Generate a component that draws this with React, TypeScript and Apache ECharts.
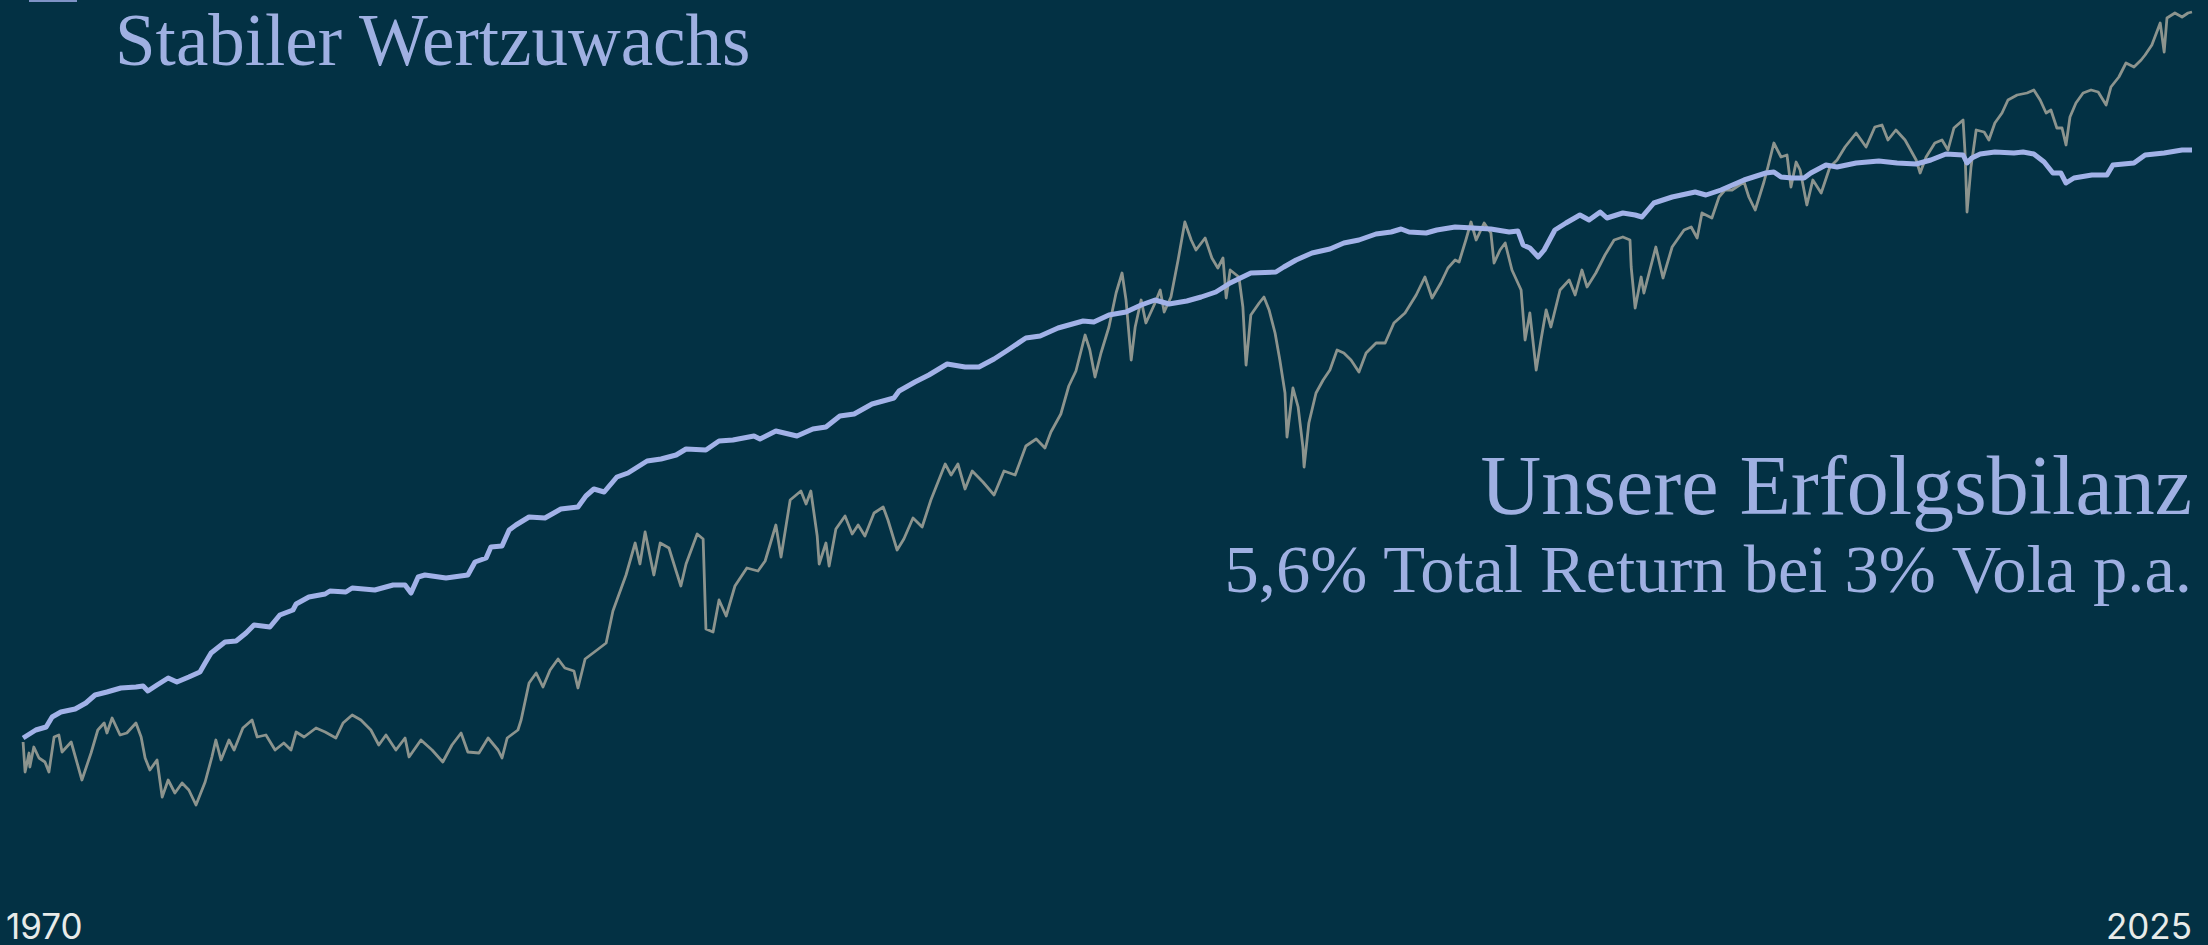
import { useEffect, useRef } from "react";
import * as echarts from "echarts";

// Aktienmarkt (grau): [Jahr, Indexwert]
const equityIndex: [number, number][] = [
  [1970.43,8.8],[1970.48,5.8],[1970.58,7.7],[1970.60,6.3],[1970.70,8.3],[1970.83,7.2],[1970.98,6.8],[1971.08,5.8],[1971.21,9.3],[1971.33,9.5],
  [1971.41,7.8],[1971.64,8.8],[1971.91,5.0],[1972.14,7.7],[1972.31,10.0],[1972.47,10.7],[1972.54,9.7],[1972.67,11.2],[1972.87,9.5],[1973.04,9.7],
  [1973.27,10.7],[1973.40,9.3],[1973.50,7.2],[1973.62,6.0],[1973.80,7.0],[1973.93,3.3],[1974.08,5.0],[1974.25,3.7],[1974.43,4.7],[1974.60,4.0],
  [1974.78,2.5],[1975.01,4.8],[1975.18,7.3],[1975.28,9.0],[1975.41,7.0],[1975.61,9.0],[1975.74,8.0],[1975.96,10.2],[1976.19,11.0],[1976.32,9.3],
  [1976.54,9.5],[1976.77,8.0],[1976.99,8.7],[1977.17,8.0],[1977.30,9.8],[1977.50,9.3],[1977.80,10.2],[1978.03,9.8],[1978.30,9.2],[1978.48,10.7],
  [1978.71,11.5],[1978.93,11.0],[1979.18,10.0],[1979.38,8.5],[1979.56,9.5],[1979.81,8.0],[1980.04,9.2],[1980.14,7.3],[1980.44,9.0],[1980.72,8.0],
  [1980.99,6.8],[1981.22,8.5],[1981.45,9.7],[1981.62,7.8],[1981.90,7.7],[1982.13,9.2],[1982.38,8.0],[1982.48,7.2],[1982.61,9.2],[1982.88,10.0],
  [1982.96,11.0],[1983.16,14.7],[1983.34,15.7],[1983.51,14.3],[1983.69,16.0],[1983.89,17.1],[1984.06,16.2],[1984.29,15.9],[1984.39,14.2],[1984.57,17.1],
  [1984.87,18.0],[1985.10,18.7],[1985.27,21.9],[1985.60,25.5],[1985.83,28.7],[1985.95,26.6],[1986.08,29.8],[1986.30,25.5],[1986.46,28.7],[1986.68,28.2],
  [1986.86,25.9],[1986.98,24.4],[1987.11,26.6],[1987.39,29.6],[1987.54,29.1],[1987.61,20.1],[1987.79,19.8],[1987.94,23.0],[1988.12,21.4],[1988.34,24.4],
  [1988.64,26.2],[1988.92,25.9],[1989.10,26.9],[1989.37,30.5],[1989.50,27.3],[1989.73,33.0],[1990.00,33.9],[1990.13,32.6],[1990.25,33.9],[1990.41,29.4],
  [1990.46,26.6],[1990.63,28.7],[1990.71,26.4],[1990.88,30.1],[1991.11,31.4],[1991.29,29.6],[1991.44,30.5],[1991.61,29.4],[1991.84,31.7],[1992.07,32.3],
  [1992.19,31.0],[1992.42,28.0],[1992.59,29.1],[1992.82,31.2],[1993.05,30.3],[1993.27,33.0],[1993.45,34.8],[1993.63,36.6],[1993.78,35.5],[1993.95,36.6],
  [1994.13,34.1],[1994.31,35.9],[1994.58,34.8],[1994.86,33.5],[1995.11,35.9],[1995.39,35.5],[1995.66,38.4],[1995.92,39.1],[1996.14,38.2],[1996.29,39.8],
  [1996.54,41.6],[1996.74,44.4],[1996.92,45.9],[1997.15,49.5],[1997.27,48.0],[1997.40,45.3],[1997.55,47.7],[1997.75,50.3],[1997.93,53.7],[1998.08,55.7],
  [1998.18,53.0],[1998.31,47.0],[1998.41,50.3],[1998.56,53.0],[1998.68,50.7],[1998.91,52.7],[1999.04,54.0],[1999.14,51.8],[1999.31,53.3],[1999.49,57.0],
  [1999.66,60.8],[1999.82,59.0],[1999.94,58.0],[2000.17,59.2],[2000.34,57.2],[2000.49,56.2],[2000.62,57.2],[2000.70,53.2],[2000.80,56.0],[2001.02,55.3],
  [2001.12,52.3],[2001.20,46.5],[2001.32,51.5],[2001.53,52.7],[2001.65,53.3],[2001.78,52.0],[2001.93,49.7],[2002.05,47.0],[2002.18,43.7],[2002.23,39.3],
  [2002.38,44.2],[2002.51,42.3],[2002.63,38.3],[2002.66,36.3],[2002.78,40.7],[2002.96,43.7],[2003.14,45.0],[2003.31,46.0],[2003.49,48.0],[2003.66,47.7],
  [2003.84,47.0],[2004.04,45.8],[2004.22,47.7],[2004.47,48.7],[2004.70,48.7],[2004.92,50.7],[2005.20,51.7],[2005.48,53.5],[2005.70,55.3],[2005.88,53.2],
  [2006.10,54.7],[2006.28,56.2],[2006.46,57.0],[2006.56,56.8],[2006.73,59.0],[2006.86,60.8],[2006.99,59.0],[2007.19,60.7],[2007.36,59.7],[2007.44,56.7],
  [2007.59,58.0],[2007.72,58.7],[2007.89,56.0],[2008.12,54.0],[2008.22,49.0],[2008.34,51.7],[2008.50,46.0],[2008.62,49.0],[2008.75,52.0],[2008.87,50.3],
  [2009.10,54.0],[2009.33,55.0],[2009.48,53.5],[2009.65,56.0],[2009.78,54.3],[2010.00,55.7],[2010.23,57.5],[2010.46,59.0],[2010.68,59.3],[2010.86,59.0],
  [2010.89,56.3],[2010.99,52.2],[2011.14,55.3],[2011.21,53.7],[2011.51,58.3],[2011.69,55.2],[2011.92,58.3],[2012.22,60.0],[2012.40,60.3],[2012.55,59.2],
  [2012.67,61.7],[2012.92,61.2],[2013.10,63.3],[2013.25,64.0],[2013.43,64.0],[2013.73,64.8],[2013.85,63.3],[2014.01,62.0],[2014.23,64.8],[2014.33,66.3],
  [2014.48,68.7],[2014.66,67.3],[2014.81,67.5],[2014.91,64.3],[2015.04,66.8],[2015.14,66.0],[2015.31,62.5],[2015.46,65.0],[2015.67,63.7],[2015.89,66.3],
  [2016.07,67.0],[2016.27,68.3],[2016.55,69.7],[2016.80,68.3],[2017.02,70.3],[2017.20,70.5],[2017.35,69.0],[2017.55,70.0],[2017.78,69.0],[2018.06,67.0],
  [2018.16,65.7],[2018.31,67.3],[2018.53,68.7],[2018.71,69.0],[2018.86,68.0],[2019.01,70.2],[2019.24,71.0],[2019.29,67.7],[2019.34,61.8],[2019.44,66.3],
  [2019.57,70.0],[2019.77,69.8],[2019.89,69.0],[2020.04,70.7],[2020.22,71.7],[2020.37,73.0],[2020.60,73.5],[2020.85,73.7],[2021.02,74.0],[2021.18,73.0],
  [2021.33,71.7],[2021.45,72.0],[2021.60,70.2],[2021.73,70.2],[2021.83,68.5],[2021.93,71.3],[2022.08,72.7],[2022.26,73.7],[2022.46,74.0],[2022.64,73.8],
  [2022.84,72.5],[2022.96,74.3],[2023.16,75.3],[2023.34,76.7],[2023.54,76.3],[2023.72,77.0],[2023.82,77.5],[2023.99,78.5],[2024.20,80.7],[2024.30,77.8],
  [2024.37,81.2],[2024.57,81.7],[2024.75,81.3],[2024.90,81.7],[2025.00,81.8],
];

// Unser Fonds (blau): [Jahr, Indexwert]
const fundIndex: [number, number][] = [
  [1970.43,9.2],[1970.75,10.0],[1971.01,10.3],[1971.16,11.3],[1971.38,11.8],[1971.74,12.1],[1972.01,12.7],[1972.24,13.5],[1972.54,13.8],[1972.89,14.2],
  [1973.27,14.3],[1973.45,14.4],[1973.57,13.9],[1973.80,14.5],[1974.08,15.2],[1974.30,14.8],[1974.60,15.3],[1974.88,15.8],[1975.01,16.7],[1975.16,17.7],
  [1975.51,18.8],[1975.79,18.9],[1976.04,19.7],[1976.24,20.5],[1976.64,20.3],[1976.89,21.5],[1977.22,22.0],[1977.30,22.6],[1977.62,23.3],[1978.03,23.6],
  [1978.15,23.9],[1978.55,23.8],[1978.71,24.2],[1979.28,24.0],[1979.74,24.5],[1980.04,24.5],[1980.19,23.7],[1980.37,25.3],[1980.54,25.5],[1981.07,25.2],
  [1981.62,25.5],[1981.80,26.8],[1982.08,27.2],[1982.20,28.3],[1982.48,28.4],[1982.66,30.0],[1982.83,30.5],[1983.16,31.3],[1983.56,31.2],[1983.96,32.1],
  [1984.39,32.3],[1984.59,33.4],[1984.79,34.1],[1985.05,33.8],[1985.37,35.3],[1985.65,35.7],[1986.13,36.9],[1986.48,37.1],[1986.86,37.5],[1987.11,38.1],
  [1987.61,38.0],[1987.94,38.9],[1988.29,39.0],[1988.82,39.4],[1988.97,39.1],[1989.37,39.9],[1989.90,39.4],[1990.30,40.1],[1990.63,40.3],[1990.98,41.4],
  [1991.34,41.6],[1991.79,42.6],[1992.34,43.2],[1992.47,43.9],[1992.87,44.8],[1993.22,45.5],[1993.68,46.6],[1994.13,46.3],[1994.48,46.3],[1994.86,47.1],
  [1995.21,48.0],[1995.66,49.2],[1996.02,49.4],[1996.47,50.2],[1997.10,50.9],[1997.37,50.8],[1997.75,51.5],[1998.18,51.8],[1998.56,52.5],[1998.91,53.0],
  [1999.26,52.6],[1999.71,52.9],[2000.07,53.3],[2000.44,53.8],[2000.80,54.7],[2001.32,55.7],[2001.95,55.8],[2002.15,56.3],[2002.46,57.0],[2002.86,57.7],
  [2003.31,58.1],[2003.66,58.7],[2004.04,59.0],[2004.47,59.6],[2004.85,59.8],[2005.10,60.1],[2005.30,59.8],[2005.73,59.7],[2006.00,60.0],[2006.46,60.3],
  [2006.91,60.2],[2007.36,60.1],[2007.82,59.8],[2008.04,59.9],[2008.17,58.5],[2008.34,58.2],[2008.55,57.3],[2008.70,58.0],[2008.97,60.0],[2009.25,60.7],
  [2009.60,61.5],[2009.83,61.0],[2010.11,61.8],[2010.28,61.2],[2010.68,61.7],[2010.99,61.5],[2011.16,61.3],[2011.46,62.7],[2011.92,63.3],[2012.50,63.8],
  [2012.77,63.5],[2013.15,64.0],[2013.73,65.0],[2014.28,65.7],[2014.48,65.8],[2014.66,65.3],[2014.94,65.2],[2015.24,65.2],[2015.41,65.7],[2015.79,66.5],
  [2016.07,66.3],[2016.55,66.7],[2017.12,66.9],[2017.58,66.7],[2018.06,66.6],[2018.43,67.0],[2018.81,67.6],[2019.24,67.5],[2019.34,66.7],[2019.46,67.2],
  [2019.67,67.6],[2020.04,67.8],[2020.52,67.7],[2020.75,67.8],[2021.02,67.6],[2021.28,66.8],[2021.50,65.7],[2021.70,65.7],[2021.83,64.7],[2022.03,65.2],
  [2022.48,65.5],[2022.86,65.5],[2023.01,66.5],[2023.54,66.7],[2023.82,67.5],[2024.30,67.7],[2024.75,68.0],[2025.00,68.0],
];

const axisYears = [1970, 2025];
const valueRange = [0, 83];
const titleText = "Stabiler Wertzuwachs";
const headlineText = "Unsere Erfolgsbilanz";
const sublineText = "5,6% Total Return bei 3% Vola p.a.";

const BG = "#033144";
const BLUE = "#a2b2e8";
const TEXT_BLUE = "#9fb0e2";
const GREY = "#8c948e";
const SERIF = '"Liberation Serif", "DejaVu Serif", serif';

export default function App() {
  const ref = useRef<HTMLDivElement>(null);
  useEffect(() => {
    if (!ref.current) return;
    const chart = echarts.init(ref.current, null, { renderer: "svg" });
    chart.setOption({
      animation: false,
      backgroundColor: BG,
      grid: { left: 6, right: 16, top: 0, bottom: 115, containLabel: false },
      xAxis: {
        type: "value",
        min: axisYears[0],
        max: axisYears[1],
        interval: axisYears[1] - axisYears[0],
        axisLine: { show: false },
        axisTick: { show: false },
        splitLine: { show: false },
        axisLabel: {
          color: "#e8ebe9",
          fontFamily: "Inter, Roboto, sans-serif",
          fontSize: 35,
          margin: 78,
          alignMinLabel: "left",
          alignMaxLabel: "right",
          formatter: (v: number) => String(Math.round(v)),
        },
      },
      yAxis: { type: "value", min: valueRange[0], max: valueRange[1], show: false },
      series: [
        {
          name: "Aktienmarkt",
          type: "line",
          data: equityIndex,
          showSymbol: false,
          symbol: "none",
          lineStyle: { color: GREY, width: 2.8, join: "round" },
          z: 2,
        },
        {
          name: "Unsere Erfolgsbilanz",
          type: "line",
          data: fundIndex,
          showSymbol: false,
          symbol: "none",
          lineStyle: { color: BLUE, width: 5, join: "round" },
          z: 3,
        },
      ],
      graphic: [
        { type: "rect", shape: { x: 29, y: 0, width: 48, height: 2 }, style: { fill: "#7f93c6" } },
        {
          type: "text",
          x: 115,
          y: 40,
          style: {
            text: titleText,
            fill: TEXT_BLUE,
            fontSize: 73,
            fontFamily: SERIF,
            align: "left",
            verticalAlign: "middle",
          },
        },
        {
          type: "text",
          x: 2192,
          y: 485,
          style: { text: headlineText, fill: TEXT_BLUE, fontSize: 84, fontFamily: SERIF, align: "right", verticalAlign: "middle" },
        },
        {
          type: "text",
          x: 2192,
          y: 569,
          style: { text: sublineText, fill: TEXT_BLUE, fontSize: 68.5, fontFamily: SERIF, align: "right", verticalAlign: "middle" },
        },
      ],
    });
    return () => chart.dispose();
  }, []);
  return <div ref={ref} style={{ position: "fixed", left: 0, top: 0, width: 2208, height: 945 }} />;
}
